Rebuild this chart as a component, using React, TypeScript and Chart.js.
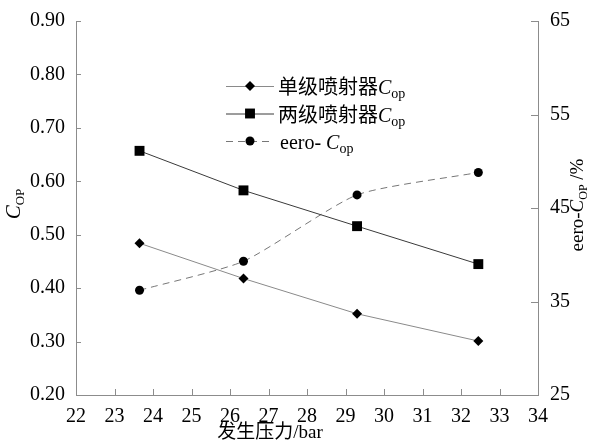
import React, { useEffect, useRef } from "react";
import { Chart, registerables } from "chart.js";

Chart.register(...registerables);

// ---- data ----
const pressure = [23.65, 26.35, 29.3, 32.45];
const singleCop = [0.484, 0.418, 0.352, 0.301];
const doubleCop = [0.657, 0.583, 0.516, 0.445];
const eeroCop = [36.2, 39.3, 46.4, 48.8];

const xTicks = [22, 23, 24, 25, 26, 27, 28, 29, 30, 31, 32, 33, 34];
const leftTicks = [0.2, 0.3, 0.4, 0.5, 0.6, 0.7, 0.8, 0.9];
const rightTicks = [25, 35, 45, 55, 65];

const legendNames = ["单级喷射器", "两级喷射器", "eero- "];
const xTitle = "发生压力/bar";

const SERIF = "'Liberation Serif', 'Noto Sans CJK SC', serif";
const AXIS = "#8c8c8c";

type Part = { t: string; size: number; italic?: boolean; dy?: number };

function partsWidth(ctx: CanvasRenderingContext2D, parts: Part[]) {
  let w = 0;
  for (const p of parts) {
    ctx.font = `${p.italic ? "italic " : ""}${p.size}px ${SERIF}`;
    w += ctx.measureText(p.t).width;
  }
  return w;
}

function drawParts(ctx: CanvasRenderingContext2D, parts: Part[], x: number, y: number, align: "left" | "center") {
  let cx = x;
  if (align === "center") cx = x - partsWidth(ctx, parts) / 2;
  ctx.textAlign = "left";
  ctx.textBaseline = "alphabetic";
  for (const p of parts) {
    ctx.font = `${p.italic ? "italic " : ""}${p.size}px ${SERIF}`;
    ctx.fillText(p.t, cx, y + (p.dy || 0));
    cx += ctx.measureText(p.t).width;
  }
}

const decorPlugin = {
  id: "decor",
  afterDraw(chart: any) {
    const { ctx, chartArea, scales } = chart;
    ctx.save();
    // inward tick marks
    ctx.strokeStyle = AXIS;
    ctx.lineWidth = 1;
    ctx.beginPath();
    for (const v of xTicks) {
      const px = Math.round(scales.x.getPixelForValue(v)) + 0.5;
      ctx.moveTo(px, chartArea.bottom);
      ctx.lineTo(px, chartArea.bottom - 6);
    }
    for (const v of leftTicks) {
      const py = Math.round(scales.y.getPixelForValue(v)) + 0.5;
      ctx.moveTo(chartArea.left, py);
      ctx.lineTo(chartArea.left + 5, py);
    }
    for (const v of rightTicks) {
      const py = Math.round(scales.y2.getPixelForValue(v)) + 0.5;
      ctx.moveTo(chartArea.right, py);
      ctx.lineTo(chartArea.right - 7, py);
    }
    ctx.stroke();

    ctx.fillStyle = "#000";
    // x title
    drawParts(ctx, [{ t: xTitle, size: 19 }], 270, 438, "center");

    // left title (rotated)
    ctx.save();
    ctx.translate(20, 204);
    ctx.rotate(-Math.PI / 2);
    drawParts(ctx, [{ t: "C", size: 21, italic: true }, { t: "OP", size: 13, dy: 4 }], 0, 0, "center");
    ctx.restore();

    // right title (rotated)
    ctx.save();
    ctx.translate(583, 205);
    ctx.rotate(-Math.PI / 2);
    drawParts(
      ctx,
      [
        { t: "eero-", size: 19 },
        { t: "C", size: 19, italic: true },
        { t: "OP", size: 12, dy: 4 },
        { t: " /%", size: 19 },
      ],
      0,
      0,
      "center"
    );
    ctx.restore();

    // legend
    chart.data.datasets.forEach((ds: any, i: number) => {
      const ly = 86 + i * 27.5;
      ctx.save();
      ctx.strokeStyle = ds.borderColor;
      ctx.lineWidth = 1;
      ctx.setLineDash(ds.borderDash || []);
      ctx.beginPath();
      ctx.moveTo(226, ly + 0.5);
      ctx.lineTo(274, ly + 0.5);
      ctx.stroke();
      ctx.setLineDash([]);
      ctx.fillStyle = "#000";
      const mx = 250;
      const r = ds.pointRadius;
      ctx.beginPath();
      if (ds.pointStyle === "rectRot") {
        ctx.moveTo(mx - r, ly);
        ctx.lineTo(mx, ly - r);
        ctx.lineTo(mx + r, ly);
        ctx.lineTo(mx, ly + r);
        ctx.closePath();
      } else if (ds.pointStyle === "rect") {
        const s = r * Math.SQRT1_2;
        ctx.rect(mx - s, ly - s, 2 * s, 2 * s);
      } else {
        ctx.arc(mx, ly, r, 0, Math.PI * 2);
      }
      ctx.fill();
      ctx.restore();
      ctx.fillStyle = "#000";
      drawParts(
        ctx,
        [
          { t: legendNames[i], size: 20 },
          { t: "C", size: 20, italic: true },
          { t: "op", size: 14, dy: 4 },
        ],
        i === 2 ? 280 : 278,
        ly + 8,
        "left"
      );
    });
    ctx.restore();
  },
};

const tickFont = { family: "'Liberation Serif', serif", size: 20 };

export default function App() {
  const ref = useRef<HTMLCanvasElement>(null);
  useEffect(() => {
    document.body.style.margin = "0";
    const canvas = ref.current;
    if (!canvas) return;
    const chart = new Chart(canvas, {
      type: "line",
      data: {
        datasets: [
          {
            label: "single",
            data: pressure.map((x, i) => ({ x, y: singleCop[i] })),
            yAxisID: "y",
            borderColor: "#8a8a8a",
            borderWidth: 1,
            pointStyle: "rectRot",
            pointRadius: 5,
            pointBackgroundColor: "#000",
            pointBorderColor: "#000",
            pointBorderWidth: 0,
            tension: 0,
          },
          {
            label: "double",
            data: pressure.map((x, i) => ({ x, y: doubleCop[i] })),
            yAxisID: "y",
            borderColor: "#3a3a3a",
            borderWidth: 1,
            pointStyle: "rect",
            pointRadius: 7,
            pointBackgroundColor: "#000",
            pointBorderColor: "#000",
            pointBorderWidth: 0,
            tension: 0,
          },
          {
            label: "eero",
            data: pressure.map((x, i) => ({ x, y: eeroCop[i] })),
            yAxisID: "y2",
            borderColor: "#777777",
            borderWidth: 1,
            borderDash: [7, 5],
            pointStyle: "circle",
            pointRadius: 4.5,
            pointBackgroundColor: "#000",
            pointBorderColor: "#000",
            pointBorderWidth: 0,
            tension: 0.2,
          },
        ] as any,
      },
      options: {
        animation: false,
        responsive: false,
        devicePixelRatio: 1,
        layout: { padding: { left: 0, right: 0, top: 21, bottom: 0 } },
        plugins: { legend: { display: false }, tooltip: { enabled: false }, title: { display: false } },
        scales: {
          x: {
            type: "linear",
            min: 22,
            max: 34,
            afterBuildTicks: (s: any) => {
              s.ticks = xTicks.map((v) => ({ value: v }));
            },
            afterFit: (s: any) => {
              s.height = 46;
            },
            ticks: { font: tickFont, color: "#000", padding: 2, maxRotation: 0, autoSkip: false },
            grid: { display: false },
            border: { display: true, color: AXIS, width: 1 },
          },
          y: {
            type: "linear",
            position: "left",
            min: 0.2,
            max: 0.9,
            afterBuildTicks: (s: any) => {
              s.ticks = leftTicks.map((v) => ({ value: v }));
            },
            afterFit: (s: any) => {
              s.width = 76;
            },
            ticks: { font: tickFont, color: "#000", padding: 3, callback: (v: any) => Number(v).toFixed(2) },
            grid: { display: false },
            border: { display: true, color: AXIS, width: 1 },
          },
          y2: {
            type: "linear",
            position: "right",
            min: 25,
            max: 65,
            afterBuildTicks: (s: any) => {
              s.ticks = rightTicks.map((v) => ({ value: v }));
            },
            afterFit: (s: any) => {
              s.width = 58;
            },
            ticks: { font: tickFont, color: "#000", padding: 4, callback: (v: any) => String(v) },
            grid: { display: false },
            border: { display: true, color: AXIS, width: 1 },
          },
        },
      } as any,
      plugins: [decorPlugin],
    });
    return () => chart.destroy();
  }, []);
  return (
    <div style={{ width: 596, height: 441, background: "#fff" }}>
      <canvas ref={ref} width={596} height={441} />
    </div>
  );
}
